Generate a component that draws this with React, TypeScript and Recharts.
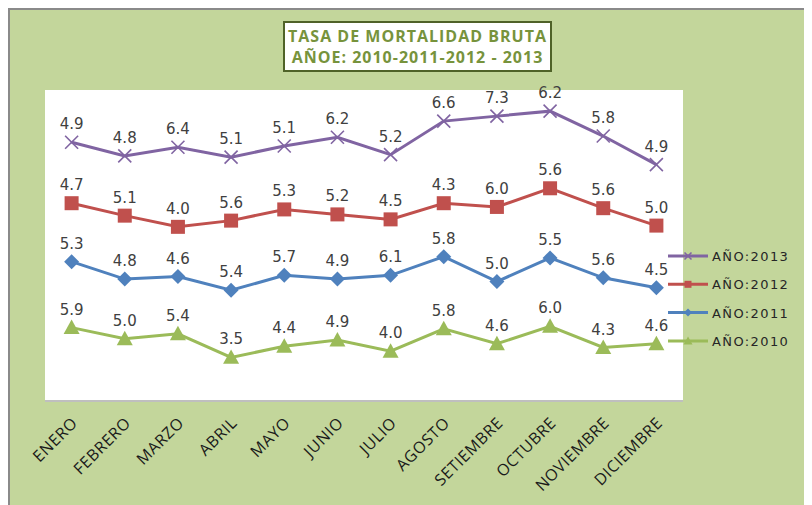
import { LineChart, Line, XAxis, YAxis, CartesianGrid, Legend, LabelList } from 'recharts';

const months = [
  'ENERO', 'FEBRERO', 'MARZO', 'ABRIL', 'MAYO', 'JUNIO',
  'JULIO', 'AGOSTO', 'SETIEMBRE', 'OCTUBRE', 'NOVIEMBRE', 'DICIEMBRE',
];
const y2010 = [5.9, 5.0, 5.4, 3.5, 4.4, 4.9, 4.0, 5.8, 4.6, 6.0, 4.3, 4.6];
const y2011 = [5.3, 4.8, 4.6, 5.4, 5.7, 4.9, 6.1, 5.8, 5.0, 5.5, 5.6, 4.5];
const y2012 = [4.7, 5.1, 4.0, 5.6, 5.3, 5.2, 4.5, 4.3, 6.0, 5.6, 5.6, 5.0];
const y2013 = [4.9, 4.8, 6.4, 5.1, 5.1, 6.2, 5.2, 6.6, 7.3, 6.2, 5.8, 4.9];

const C2010 = '#9bbb59';
const C2011 = '#4f81bd';
const C2012 = '#c0504d';
const C2013 = '#8064a2';

// stacked line chart: each series sits on top of the previous ones
const data = months.map((m, i) => {
  const a = y2010[i];
  const b = a + y2011[i];
  const c = b + y2012[i];
  const d = c + y2013[i];
  return { month: m, s2010: a, s2011: b, s2012: c, s2013: d };
});

const Cross = ({ cx, cy, r = 6.5, color }: any) => (
  <g>
    <line x1={cx - r} y1={cy - r} x2={cx + r} y2={cy + r} stroke={color} strokeWidth={1.6} />
    <line x1={cx - r} y1={cy + r} x2={cx + r} y2={cy - r} stroke={color} strokeWidth={1.6} />
  </g>
);
const Square = ({ cx, cy, r = 7, color }: any) => (
  <rect x={cx - r} y={cy - r} width={r * 2} height={r * 2} fill={color} />
);
const Diamond = ({ cx, cy, r = 7.5, color }: any) => (
  <polygon points={`${cx},${cy - r} ${cx + r},${cy} ${cx},${cy + r} ${cx - r},${cy}`} fill={color} />
);
const Triangle = ({ cx, cy, r = 8, color }: any) => (
  <polygon points={`${cx},${cy - r} ${cx + r},${cy + r * 0.8} ${cx - r},${cy + r * 0.8}`} fill={color} />
);

const makeLabel = (values: number[]) => (props: any) => {
  const { x, y, index } = props;
  return (
    <text
      x={x}
      y={y - 13}
      textAnchor="middle"
      fontSize={15}
      fontFamily="DejaVu Sans"
      fill="#404040"
    >
      {values[index].toFixed(1)}
    </text>
  );
};

const MonthTick = ({ x, y, payload }: any) => (
  <g transform={`translate(${x + 7},${y + 15})`}>
    <text
      textAnchor="end"
      transform="rotate(-45)"
      fontSize={16}
      letterSpacing={0.6}
      fontFamily="Open Sans"
      fill="#1a1a1a"
    >
      {payload.value}
    </text>
  </g>
);

const legendItems = [
  { name: 'AÑO:2013', color: C2013, Mark: Cross, r: 3.5 },
  { name: 'AÑO:2012', color: C2012, Mark: Square, r: 3.5 },
  { name: 'AÑO:2011', color: C2011, Mark: Diamond, r: 4 },
  { name: 'AÑO:2010', color: C2010, Mark: Triangle, r: 4.5 },
];

const ChartLegend = () => (
  <svg width={150} height={120}>
    {legendItems.map((it, i) => {
      const cy = 10 + i * 28.3;
      const Mark = it.Mark;
      return (
        <g key={it.name}>
          <line x1={2} y1={cy} x2={42} y2={cy} stroke={it.color} strokeWidth={3} />
          <Mark cx={22} cy={cy} r={it.r} color={it.color} />
          <text
            x={46}
            y={cy + 5}
            fontSize={13}
            fontFamily="DejaVu Sans"
            letterSpacing={1.4}
            fill="#262626"
          >
            {it.name}
          </text>
        </g>
      );
    })}
  </svg>
);

export default function App() {
  return (
    <div
      style={{
        position: 'relative',
        width: 804,
        height: 497,
        boxSizing: 'border-box',
        background: '#c3d69b',
        borderTop: '2px solid #8a8a8a',
        borderLeft: '2px solid #8a8a8a',
      }}
    >
      <LineChart
        width={802}
        height={495}
        data={data}
        margin={{ top: 80, right: 129, bottom: 4, left: 35 }}
        style={{ position: 'absolute', left: 0, top: 0 }}
      >
        <CartesianGrid fill="#ffffff" stroke="none" horizontal={false} vertical={false} />
        <XAxis
          dataKey="month"
          height={100}
          interval={0}
          padding={{ left: 26.6, right: 26.6 }}
          tickLine={false}
          axisLine={{ stroke: '#bfbfbf', strokeWidth: 2 }}
          tick={<MonthTick />}
        />
        <YAxis hide domain={[0, 25]} />
        <Legend
          layout="horizontal"
          verticalAlign="middle"
          align="center"
          content={<ChartLegend />}
          wrapperStyle={{ position: 'absolute', left: 656, top: 236, width: 150, height: 120 }}
        />
        <Line
          dataKey="s2010"
          stroke={C2010}
          strokeWidth={3}
          isAnimationActive={false}
          dot={(p: any) => <Triangle key={`t${p.index}`} cx={p.cx} cy={p.cy} color={C2010} />}
        >
          <LabelList dataKey="s2010" content={makeLabel(y2010)} />
        </Line>
        <Line
          dataKey="s2011"
          stroke={C2011}
          strokeWidth={3}
          isAnimationActive={false}
          dot={(p: any) => <Diamond key={`d${p.index}`} cx={p.cx} cy={p.cy} color={C2011} />}
        >
          <LabelList dataKey="s2011" content={makeLabel(y2011)} />
        </Line>
        <Line
          dataKey="s2012"
          stroke={C2012}
          strokeWidth={3}
          isAnimationActive={false}
          dot={(p: any) => <Square key={`s${p.index}`} cx={p.cx} cy={p.cy} color={C2012} />}
        >
          <LabelList dataKey="s2012" content={makeLabel(y2012)} />
        </Line>
        <Line
          dataKey="s2013"
          stroke={C2013}
          strokeWidth={3}
          isAnimationActive={false}
          dot={(p: any) => <Cross key={`c${p.index}`} cx={p.cx} cy={p.cy} color={C2013} />}
        >
          <LabelList dataKey="s2013" content={makeLabel(y2013)} />
        </Line>
      </LineChart>
      <div
        style={{
          position: 'absolute',
          left: 273,
          top: 11,
          width: 269,
          height: 51,
          boxSizing: 'border-box',
          background: '#ffffff',
          border: '2px solid #4f6228',
          color: '#77933c',
          fontFamily: 'Open Sans',
          fontWeight: 700,
          fontSize: 16,
          letterSpacing: 1,
          lineHeight: '21px',
          textAlign: 'center',
          paddingTop: 3,
          whiteSpace: 'nowrap',
        }}
      >
        <div>TASA DE MORTALIDAD BRUTA</div>
        <div>AÑOE: 2010-2011-2012 - 2013</div>
      </div>
    </div>
  );
}
